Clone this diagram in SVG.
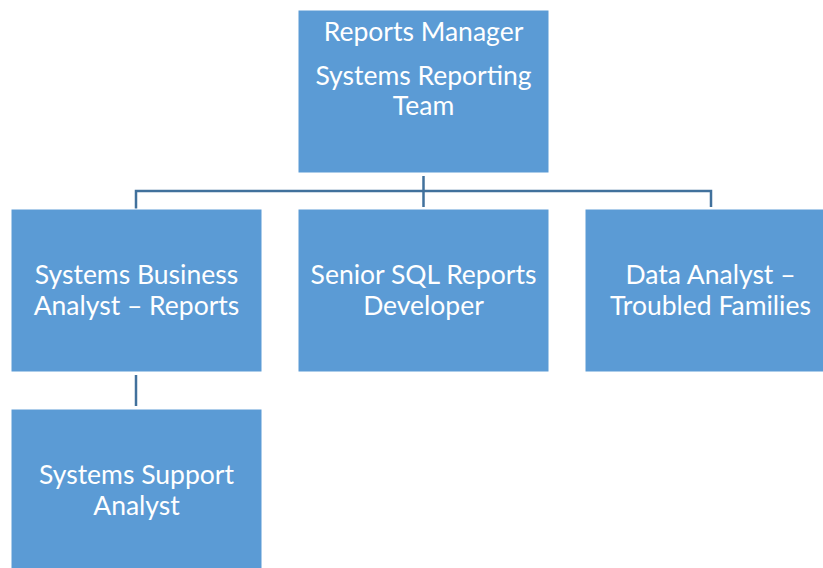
<svg xmlns="http://www.w3.org/2000/svg" width="823" height="568" viewBox="0 0 823 568">
<style>
.box{fill:#5B9BD5;stroke:#FFFFFF;stroke-width:1}
.t{font-family:Lato,"Open Sans","Liberation Sans",sans-serif;font-size:26.5px;fill:#FFFFFF;text-anchor:middle}
.c{stroke:#41719C;stroke-width:2.5;fill:none}
</style>
<rect width="823" height="568" fill="#FFFFFF"/>
<g id="connectors">
<path class="c" d="M136,209 V191 H711 V207"/>
<path class="c" d="M423.5,176 V207"/>
<path class="c" d="M136,375 V406"/>
</g>
<g id="n-manager">
<rect class="box" x="298" y="10" width="251" height="163"/>
<text class="t" x="423.5" y="41">Reports Manager</text>
<text class="t" x="423.5" y="85">Systems Reporting</text>
<text class="t" x="423.5" y="115">Team</text>
</g>
<g id="n-sba">
<rect class="box" x="11" y="209" width="251" height="163"/>
<text class="t" x="136.5" y="284">Systems Business</text>
<text class="t" x="136.5" y="315">Analyst – Reports</text>
</g>
<g id="n-sql">
<rect class="box" x="298" y="209" width="251" height="163"/>
<text class="t" x="423.5" y="284">Senior SQL Reports</text>
<text class="t" x="423.5" y="315">Developer</text>
</g>
<g id="n-data">
<rect class="box" x="585" y="209" width="251" height="163"/>
<text class="t" x="710.5" y="284">Data Analyst –</text>
<text class="t" x="710.5" y="315">Troubled Families</text>
</g>
<g id="n-support">
<rect class="box" x="11" y="409" width="251" height="163"/>
<text class="t" x="136.5" y="484">Systems Support</text>
<text class="t" x="136.5" y="515">Analyst</text>
</g>
</svg>
